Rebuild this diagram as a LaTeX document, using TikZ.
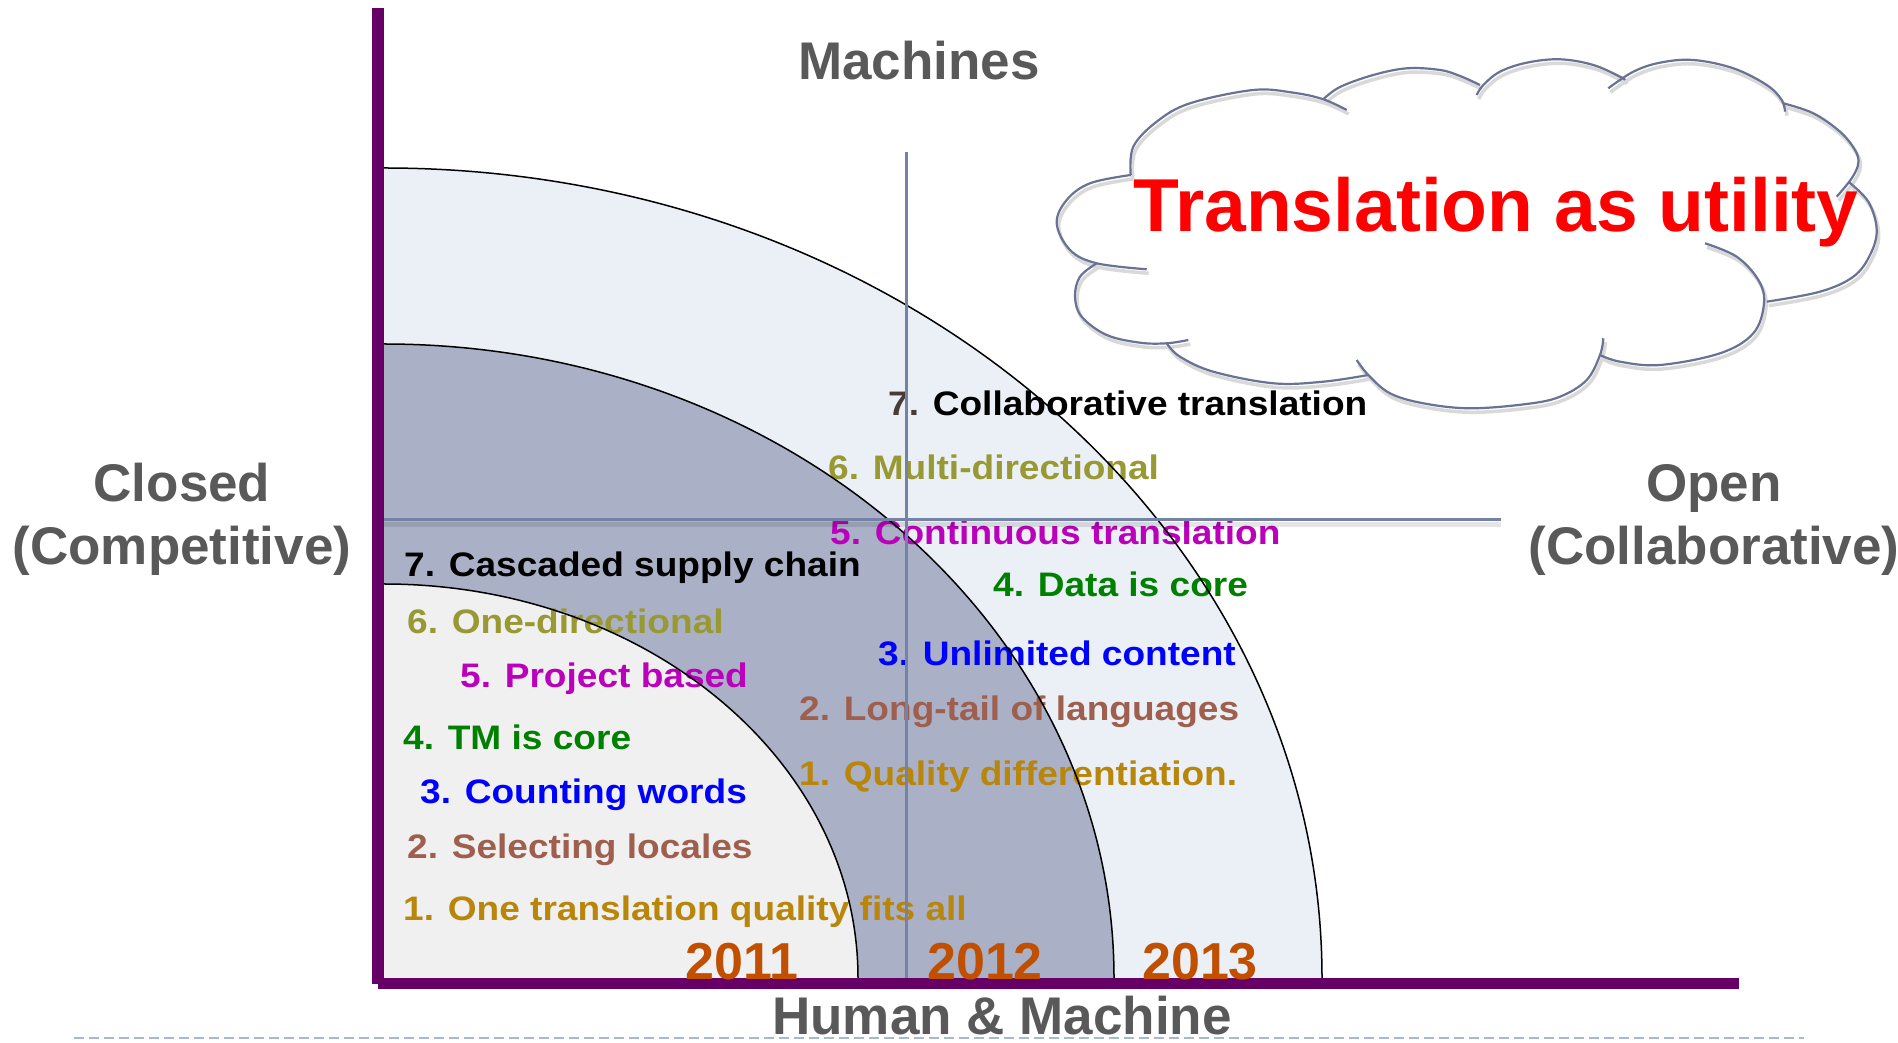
\documentclass[tikz,border=0pt]{standalone}
\usepackage{fontspec}
\setmainfont{Liberation Sans}
\newfontfamily\listfont[FakeStretch=1.09]{Liberation Sans Bold}

\definecolor{axispurple}{HTML}{660066}
\definecolor{labelgrey}{HTML}{595959}
\definecolor{bandouter}{HTML}{EAF0F5}
\definecolor{bandmid}{HTML}{AAB0C6}
\definecolor{bandinner}{HTML}{F0F0F0}
\definecolor{gridline}{HTML}{7482A8}
\definecolor{cloudline}{HTML}{6A7294}
\definecolor{olivec}{HTML}{999933}
\definecolor{magc}{HTML}{BB00BB}
\definecolor{greenc}{HTML}{008000}
\definecolor{bluec}{HTML}{0000FF}
\definecolor{brownc}{HTML}{9E5F4E}
\definecolor{goldc}{HTML}{B8860B}
\definecolor{yearc}{HTML}{C05000}
\definecolor{dashc}{HTML}{A9B9CC}
\definecolor{sevenc}{HTML}{483C38}

\tikzset{
  biglabel/.style={font=\bfseries\fontsize{53}{60}\selectfont, text=labelgrey, anchor=base, inner sep=0pt},
  listtext/.style={font=\listfont\fontsize{34}{40}\selectfont, anchor=base west, inner sep=0pt},
  yearlabel/.style={font=\bfseries\fontsize{52}{58}\selectfont, text=yearc, anchor=base west, inner sep=0pt},
  arcline/.style={black, line width=1.5pt},
  thinline/.style={gridline, line width=3pt},
}

\newcommand{\mycloudoutline}[1]{%
  % bump A (top-left)
  \draw[#1] plot[smooth,tension=0.6] coordinates {(1130.7,867) (1133.3,895.3) (1156.7,920.3) (1190,938.7) (1253.3,952) (1293.3,949.3) (1323.3,942.7) (1346.7,932)};
  % bump B
  \draw[#1] plot[smooth,tension=0.6] coordinates {(1323.3,942.7) (1340,955) (1373.3,967) (1407,973.7) (1440,972) (1460,966) (1480,957)};
  % bump C
  \draw[#1] plot[smooth,tension=0.6] coordinates {(1476.7,947) (1483.3,957) (1500,970.3) (1526.7,979.3) (1560,982.7) (1593.3,977) (1620,965.3) (1625,962)};
  % bump D
  \draw[#1] plot[smooth,tension=0.6] coordinates {(1608.3,953.7) (1633.3,970.3) (1660,979.3) (1693.3,982) (1733.3,973.7) (1766.7,957) (1781.7,942) (1785,930.3)};
  % bump E
  \draw[#1] plot[smooth,tension=0.6] coordinates {(1783.3,938.7) (1813.3,928.7) (1840,910.3) (1855,892) (1858.3,878.7) (1851.7,863.7) (1836.7,845.3)};
  % bump F
  \draw[#1] plot[smooth,tension=0.6] coordinates {(1848.3,860.3) (1868.3,840.3) (1876.7,812) (1870,787) (1853.3,765.3) (1820,750.3) (1766.7,740.3)};
  % bump G
  \draw[#1] plot[smooth,tension=0.6] coordinates {(1705,798.7) (1736.7,785.3) (1758.3,762) (1764,738.7) (1753.3,708.7) (1720,688.7) (1660,677) (1620,680.3) (1600,687)};
  % bump H
  \draw[#1] plot[smooth,tension=0.6] coordinates {(1603.3,703.7) (1600,687) (1586.7,662) (1560,645.3) (1526.7,638) (1470,633.7) (1423.3,638.7) (1390,648.7) (1368.3,667) (1356.7,682)};
  % bump I
  \draw[#1] plot[smooth,tension=0.6] coordinates {(1166.7,698.7) (1180,685.3) (1213.3,670.3) (1273.3,658.7) (1323.3,660.3) (1368.3,667)};
  % bump J
  \draw[#1] plot[smooth,tension=0.6] coordinates {(1096.7,778.7) (1080,765.3) (1075,745.3) (1081.7,725.3) (1106.7,707) (1140,699.3) (1166.7,698.7) (1188.3,702)};
  % bump K
  \draw[#1] plot[smooth,tension=0.6] coordinates {(1146.7,772.7) (1096.7,778.7) (1070,792) (1056.7,818.7) (1066.7,842) (1090,858.7) (1130.7,867)};
}

\begin{document}
\begin{tikzpicture}[x=1pt,y=1pt]
\useasboundingbox (0,0) rectangle (1898,1042);
\fill[white] (0,0) rectangle (1898,1042);

% bands
\fill[bandouter] (384,64) -- (1322,64) arc[start angle=0,end angle=90,x radius=938,y radius=810] -- cycle;
\fill[bandmid] (384,64) -- (1114,64) arc[start angle=0,end angle=90,x radius=730,y radius=634] -- cycle;
\fill[bandinner] (384,64) -- (858,64) arc[start angle=0,end angle=90,x radius=474,y radius=394] -- cycle;

% left list (2011)
\node[listtext, text=black]  (l7) at (404,465) {7. Cascaded supply chain};
\node[listtext, text=olivec] (l6) at (407,408) {6. One-directional};
\node[listtext, text=magc]   (l5) at (460,354) {5. Project based};
\node[listtext, text=greenc] (l4) at (403,292) {4. TM is core};
\node[listtext, text=bluec]  (l3) at (420,238) {3. Counting words};
\node[listtext, text=brownc] (l2) at (407,183) {2. Selecting locales};
\node[listtext, text=goldc]  (l1) at (403,122) {1. One translation quality fits all};

% right list (2012/2013)
\node[listtext, text=black]  (r7) at (888,626) {\textcolor{sevenc}{7.} Collaborative translation};
\node[listtext, text=olivec] (r6) at (828,562) {6. Multi-directional};
\node[listtext, text=magc]   (r5) at (830,497) {5. Continuous translation};
\node[listtext, text=greenc] (r4) at (993,445) {4. Data is core};
\node[listtext, text=bluec]  (r3) at (878,376) {3. Unlimited content};
\node[listtext, text=brownc] (r2) at (799,321) {2. Long-tail of languages};
\node[listtext, text=goldc]  (r1) at (799,256) {1. Quality differentiation.};

% arc outlines
\draw[arcline] (1322,64) arc[start angle=0,end angle=90,x radius=938,y radius=810];
\draw[arcline] (1114,64) arc[start angle=0,end angle=90,x radius=730,y radius=634];
\draw[arcline] (858,64) arc[start angle=0,end angle=90,x radius=474,y radius=394];

% quadrant lines
\draw[black, opacity=0.10, line width=5pt] (384,517) -- (1501,517);
\draw[thinline] (384,522) -- (1501,522);
\draw[thinline] (906,64) -- (906,890);

% axes
\draw[axispurple, line width=12pt] (378,58) -- (378,1034);
\draw[axispurple, line width=11pt] (378,58.5) -- (1739,58.5);

% years
\node[yearlabel] (y2011) at (685,63) {2011};
\node[yearlabel] (y2012) at (927,63) {2012};
\node[yearlabel] (y2013) at (1142,63) {2013};

% dashed footer line
\draw[dashc, line width=2pt, dash pattern=on 10pt off 5pt] (74,4) -- (1804,4);

% axis labels
\node[biglabel] (machines) at (919,962) {Machines};
\node[biglabel] (closed) at (182,540) {Closed};
\node[biglabel] (competitive) at (182,477) {(Competitive)};
\node[biglabel] (open) at (1714,540) {Open};
\node[biglabel] (collaborative) at (1714,477) {(Collaborative)};
\node[biglabel] (humanmachine) at (1002,8) {Human \& Machine};

% cloud
\mycloudoutline{black!15, line width=3.5pt, shift={(2,-4)}}
\mycloudoutline{cloudline, line width=2.2pt}
\node[font=\bfseries\fontsize{75}{82}\selectfont, text=red, anchor=base, inner sep=0pt] (title) at (1496,810) {Translation as utility};
\end{tikzpicture}
\end{document}
